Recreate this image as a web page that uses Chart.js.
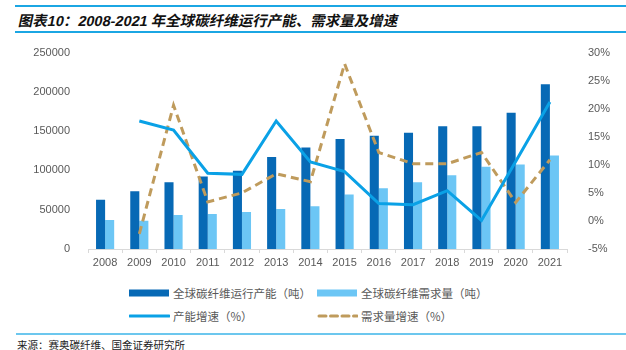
<!DOCTYPE html>
<html>
<head>
<meta charset="utf-8">
<script src="https://cdn.jsdelivr.net/npm/chart.js@4"></script>
<style>
  body { margin:0; width:626px; height:350px; background:#fff; position:relative; overflow:hidden;
         font-family:"Liberation Sans", "Noto Sans CJK SC", sans-serif; }
  .rule { position:absolute; left:15px; right:0; height:2px; background:#1BA6E3; }
  #title { position:absolute; left:17px; top:9px; font-size:14.5px; font-weight:bold;
           color:#111; font-family:"Liberation Sans","Noto Sans CJK SC",sans-serif; white-space:nowrap;
           transform:skewX(-12deg); transform-origin:left bottom; }
  #box { position:absolute; left:0; top:33px; width:626px; height:242px; }
  #legend { position:absolute; left:0; top:284px; width:626px; font-size:11.5px; color:#595959;
            font-family:"Noto Sans CJK SC", sans-serif; }
  .item { position:absolute; display:flex; align-items:center; white-space:nowrap; }
  .item svg { margin-right:3px; }
  #foot { position:absolute; left:16px; right:0; top:333px; height:2px; background:#6CC7EE; }
  #src { position:absolute; left:17px; top:337px; font-size:10.5px; color:#222;
         font-family:"Noto Sans CJK SC", sans-serif; white-space:nowrap; }
</style>
</head>
<body>
<div class="rule" style="top:5px"></div>
<div id="title">图表10：2008-2021 年全球碳纤维运行产能、需求量及增速</div>
<div class="rule" style="top:31px"></div>
<div id="box"><canvas id="myChart"></canvas></div>
<div id="legend"></div>
<div id="foot"></div>
<div id="src">来源：赛奥碳纤维、国金证券研究所</div>
<script>
const years = ['2008','2009','2010','2011','2012','2013','2014','2015','2016','2017','2018','2019','2020','2021']
const capacity = [62600, 73600, 85000, 92200, 99700, 117000, 129200, 140100, 144300, 148100, 156100, 156100, 173400, 209600]
const demand = [37000, 36100, 43300, 44600, 47100, 50900, 54300, 69400, 77400, 85000, 93800, 104800, 107700, 119100]
const capacityGrowth = [null, 17.8, 16.2, 8.5, 8.3, 17.8, 10.5, 8.8, 3.1, 2.9, 5.4, 0.1, 10.6, 21.2]
const demandGrowth = [null, -2.3, 20.6, 3.4, 5.0, 8.4, 7.0, 28.0, 12.2, 10.2, 10.2, 12.2, 3.3, 10.9]

const darkBlue = '#0769B5'
const lightBlue = '#6CC6F5'
const lineBlue = '#0AA1E6'
const tan = '#BF9B5C'
const gray = '#595959'

const ctx = document.getElementById('myChart')

new Chart(ctx, {
  data: {
    labels: years,
    datasets: [
      { type:'line', label:'产能增速（%）', data:capacityGrowth, yAxisID:'y1', borderColor:lineBlue,
        borderWidth:3, pointRadius:0, tension:0, order:0 },
      { type:'line', label:'需求量增速（%）', data:demandGrowth, yAxisID:'y1', borderColor:tan,
        borderWidth:3, borderDash:[8,5], pointRadius:0, tension:0, order:1 },
      { type:'bar', label:'全球碳纤维运行产能（吨）', data:capacity, yAxisID:'y', backgroundColor:darkBlue,
        barPercentage:1, categoryPercentage:0.53, order:2 },
      { type:'bar', label:'全球碳纤维需求量（吨）', data:demand, yAxisID:'y', backgroundColor:lightBlue,
        barPercentage:1, categoryPercentage:0.53, order:3 }
    ]
  },
  options: {
    responsive:true,
    maintainAspectRatio:false,
    animation:false,
    layout: { padding: { top:9, left:0, right:0, bottom:0 } },
    plugins: { legend:{ display:false }, tooltip:{ enabled:false } },
    scales: {
      x: {
        offset:true,
        grid: { display:true, drawOnChartArea:false, offset:true, color:'#D9D9D9', tickLength:4 },
        border: { display:true, color:'#D9D9D9' },
        ticks: { color:gray, font:{ size:11, family:'Liberation Sans' }, padding:3 },
        afterFit: s => { s.height = 26 }
      },
      y: {
        position:'left', min:0, max:250000,
        ticks: { stepSize:50000, color:gray, font:{ size:11, family:'Liberation Sans' }, padding:10,
                 callback: v => String(v) },
        grid: { display:false }, border: { display:false },
        afterFit: s => { s.width = 88 }
      },
      y1: {
        position:'right', min:-5, max:30,
        ticks: { stepSize:5, color:gray, font:{ size:11, family:'Liberation Sans' }, padding:13,
                 callback: v => v + '%' },
        grid: { display:false }, border: { display:false },
        afterFit: s => { s.width = 59 }
      }
    }
  }
})

// legend drawn as html
const legendItems = [
  { label:'全球碳纤维运行产能（吨）', kind:'bar', color:darkBlue, x:129, y:0 },
  { label:'全球碳纤维需求量（吨）', kind:'bar', color:lightBlue, x:317, y:0 },
  { label:'产能增速（%）', kind:'line', color:lineBlue, x:129, y:23 },
  { label:'需求量增速（%）', kind:'dash', color:tan, x:317, y:23 }
]
const legend = document.getElementById('legend')
legendItems.forEach(it => {
  let sw
  if (it.kind === 'bar') sw = '<svg width="41" height="18"><rect x="0" y="5.5" width="40" height="7" fill="' + it.color + '"/></svg>'
  else if (it.kind === 'line') sw = '<svg width="41" height="18"><line x1="1" y1="9" x2="40" y2="9" stroke="' + it.color + '" stroke-width="3" stroke-linecap="round"/></svg>'
  else sw = '<svg width="41" height="18"><line x1="2" y1="9" x2="40" y2="9" stroke="' + it.color + '" stroke-width="3" stroke-dasharray="7,4.5" stroke-linecap="round"/></svg>'
  legend.innerHTML += '<div class="item" style="left:' + it.x + 'px;top:' + it.y + 'px">' + sw + '<span>' + it.label + '</span></div>'
})
</script>
</body>
</html>
